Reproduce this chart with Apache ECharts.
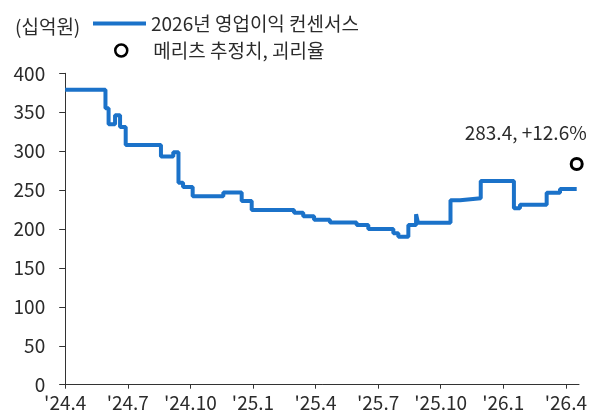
<!DOCTYPE html>
<html>
<head>
<meta charset="utf-8">
<script src="https://cdn.jsdelivr.net/npm/echarts@6/dist/echarts.min.js"></script>
<style>
html,body{margin:0;padding:0;background:#fff;}
#c{width:589px;height:414px;}
</style>
</head>
<body>
<div id="c"></div>
<script>
// months since 2024.4 at which the consensus changed, and the new value (십억원)
const consensusMonths = [0, 1.93, 2.08, 2.39, 2.63, 2.90, 4.59, 5.18, 5.43, 5.65, 6.11, 7.58, 8.46, 8.94, 10.97, 11.41, 11.93, 12.69, 13.97, 14.53, 15.73, 15.97, 16.45, 16.82, 16.91, 18.47, 18.93, 19.92, 21.51, 21.80, 23.08, 23.72, 24.52];
const consensusValues = [379, 355, 334.5, 346, 331, 308, 293, 298.5, 259.5, 254, 242, 247, 236, 224.5, 221, 216.5, 212, 208.5, 205, 200, 194.5, 190, 205, 219, 208, 237, 239.5, 261.5, 226.5, 231, 246.5, 251.4, 251.4];
const meritzMonth = 24.52;
const meritzValue = 283.4;
const meritzLabel = '283.4, +12.6%';
const xTickMonths = [0, 3, 6, 9, 12, 15, 18, 21, 24];
const xTickLabels = ["'24.4", "'24.7", "'24.10", "'25.1", "'25.4", "'25.7", "'25.10", "'26.1", "'26.4"];
const yMin = 0, yMax = 400, yStep = 50;
const xMax = 24.63;
const unitLabel = '(십억원)';
const seriesNames = ['2026년 영업이익 컨센서스', '메리츠 추정치, 괴리율'];

const FONT = '"Noto Sans CJK KR", "Noto Sans", sans-serif';
const TXT = '#2b2b2b';
const FS = 19;
const BLUE = '#1b72c9';
const chart = echarts.init(document.getElementById('c'), null, {renderer: 'canvas'});
chart.setOption({
  animation: false,
  textStyle: {fontFamily: FONT},
  title: {
    text: unitLabel, left: 15, top: 17, padding: 0,
    textStyle: {fontSize: FS, fontWeight: 'normal', color: TXT, fontFamily: FONT}
  },
  legend: [
    {
      left: 93, top: 14, padding: 0,
      itemWidth: 53, itemHeight: 4,
      textStyle: {fontSize: FS, color: TXT, fontFamily: FONT},
      data: [{name: seriesNames[0], icon: 'rect', itemStyle: {color: BLUE}}]
    },
    {
      left: 114, top: 41, padding: 0,
      itemWidth: 12, itemHeight: 12,
      textStyle: {fontSize: FS, color: TXT, fontFamily: FONT, padding: [0, 0, 0, 21]},
      data: [{name: seriesNames[1], icon: 'circle', itemStyle: {color: '#fff', borderColor: '#000', borderWidth: 2.5, opacity: 1}}]
    }
  ],
  grid: {left: 65.2, right: 10, top: 73.3, bottom: 29.3, containLabel: false, outerBoundsMode: 'none'},
  xAxis: {
    type: 'value', min: 0, max: xMax, interval: 3,
    splitLine: {show: false},
    axisLine: {show: true, onZero: false, lineStyle: {color: '#333', width: 1}},
    axisTick: {show: true, length: 4, lineStyle: {color: '#333'}, customValues: xTickMonths},
    axisLabel: {
      fontSize: FS, color: TXT, margin: 9, fontFamily: FONT,
      customValues: xTickMonths,
      formatter: function (v) { const i = xTickMonths.indexOf(Math.round(v)); return i >= 0 ? xTickLabels[i] : ''; }
    }
  },
  yAxis: {
    type: 'value', min: yMin, max: yMax, interval: yStep,
    splitLine: {show: false},
    axisLine: {show: true, lineStyle: {color: '#333', width: 1}},
    axisTick: {show: true, length: 6, lineStyle: {color: '#333'}},
    axisLabel: {fontSize: FS, color: TXT, margin: 20, fontFamily: FONT}
  },
  series: [
    {
      name: seriesNames[0], type: 'line', step: 'end', symbol: 'none',
      lineStyle: {width: 4, color: BLUE}, itemStyle: {color: BLUE},
      data: consensusMonths.map((m, i) => [m, consensusValues[i]])
    },
    {
      name: seriesNames[1], type: 'scatter', symbol: 'circle', symbolSize: 11,
      itemStyle: {color: '#fff', borderColor: '#000', borderWidth: 3, opacity: 1},
      label: {
        show: true, position: 'top', offset: [-51, -10], formatter: meritzLabel,
        fontSize: FS, color: TXT, fontFamily: FONT
      },
      data: [[meritzMonth, meritzValue]]
    }
  ]
});
</script>
</body>
</html>
